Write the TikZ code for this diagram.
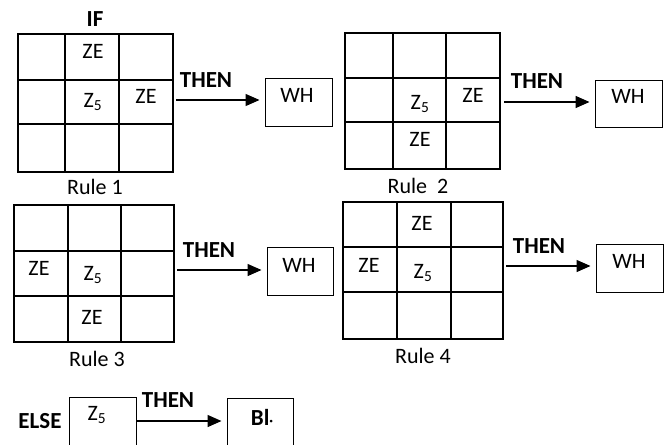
\documentclass[tikz,border=0pt]{standalone}
\usepackage{fontspec}
\setmainfont{Carlito}
\usetikzlibrary{arrows.meta}
\newcommand\drawgrid[8]{%
  \draw[ln] (#1,#5) rectangle (#4,#8);
  \draw[ln] (#2,#5) -- (#2,#8) (#3,#5) -- (#3,#8) (#1,#6) -- (#4,#6) (#1,#7) -- (#4,#7);}
\begin{document}
\begin{tikzpicture}[x=1pt,y=-1pt,
  txt/.style={anchor=base,inner sep=0pt,font=\fontsize{22}{25}\selectfont},
  btxt/.style={anchor=base,inner sep=0pt,font=\fontsize{23}{26}\selectfont\bfseries},
  ln/.style={line width=1.4pt},
  outbox/.style={draw,line width=1.4pt,rectangle,inner sep=0pt,anchor=north west},
  arr/.style={line width=1.4pt,-{Triangle[length=14pt,width=12pt]},shorten >=5.5pt}]
\clip (0,0) rectangle (668,444);
\fill[white] (0,0) rectangle (668,444);

% ---------- Rule 1 ----------
\drawgrid{18}{65}{119}{173}{34}{80}{124}{172}
\node[btxt] (if1) at (95,27) {IF};
\node[txt] (r1a) at (93,58) {ZE};
\node[txt] (r1z) at (93,107) {Z\textsubscript{5}};
\node[txt] (r1b) at (146,103) {ZE};
\node[txt] (r1l) at (95,194) {Rule 1};
\node[btxt] (t1) at (206,87) {THEN};
\node[outbox,minimum width=67pt,minimum height=48pt] (w1) at (265,78) {};
\node[txt] (w1t) at (297,102) {WH};
\coordinate (a1) at (176,100);
\draw[arr] (a1) -- (a1 -| w1.west);

% ---------- Rule 2 ----------
\drawgrid{345}{393}{446}{500}{33}{78}{122}{169}
\node[txt] (r2z) at (420,109) {Z\textsubscript{5}};
\node[txt] (r2a) at (473,102) {ZE};
\node[txt] (r2b) at (420,146) {ZE};
\node[txt] (r2l) at (418,193) {Rule\ \ 2};
\node[btxt] (t2) at (537,88) {THEN};
\node[outbox,minimum width=67pt,minimum height=47pt] (w2) at (595,80) {};
\node[txt] (w2t) at (628,103) {WH};
\coordinate (a2) at (504,102);
\draw[arr] (a2) -- (a2 -| w2.west);

% ---------- Rule 3 ----------
\drawgrid{14}{68}{121}{174}{205}{251}{296}{342}
\node[txt] (r3a) at (39,275) {ZE};
\node[txt] (r3z) at (93,280) {Z\textsubscript{5}};
\node[txt] (r3b) at (92,324) {ZE};
\node[txt] (r3l) at (97,366) {Rule 3};
\node[btxt] (t3) at (209,257) {THEN};
\node[outbox,minimum width=66pt,minimum height=48pt] (w3) at (267,247) {};
\node[txt] (w3t) at (299,272) {WH};
\coordinate (a3) at (177,270);
\draw[arr] (a3) -- (a3 -| w3.west);

% ---------- Rule 4 ----------
\drawgrid{343}{397}{451}{503}{202}{247}{292}{339}
\node[txt] (r4a) at (422,230) {ZE};
\node[txt] (r4b) at (369,272) {ZE};
\node[txt] (r4z) at (423,278) {Z\textsubscript{5}};
\node[txt] (r4l) at (423,363) {Rule 4};
\node[btxt] (t4) at (539,253) {THEN};
\node[outbox,minimum width=67pt,minimum height=48pt] (w4) at (596,244) {};
\node[txt] (w4t) at (629,268) {WH};
\coordinate (a4) at (506,266);
\draw[arr] (a4) -- (a4 -| w4.west);

% ---------- ELSE ----------
\node[btxt] (else) at (40,428) {ELSE};
\node[outbox,minimum width=67pt,minimum height=60pt] (zb) at (69,397) {};
\node[txt] (zbt) at (97,420) {Z\textsubscript{5}};
\node[btxt] (t5) at (168,407) {THEN};
\node[outbox,minimum width=66pt,minimum height=60pt] (bb) at (227,398) {};
\node[btxt] (bbt) at (262,425) {Bl{\fontsize{14}{14}\selectfont·}};
\draw[arr] (zb.east |- 0,421) -- (bb.west |- 0,421);
\end{tikzpicture}
\end{document}
